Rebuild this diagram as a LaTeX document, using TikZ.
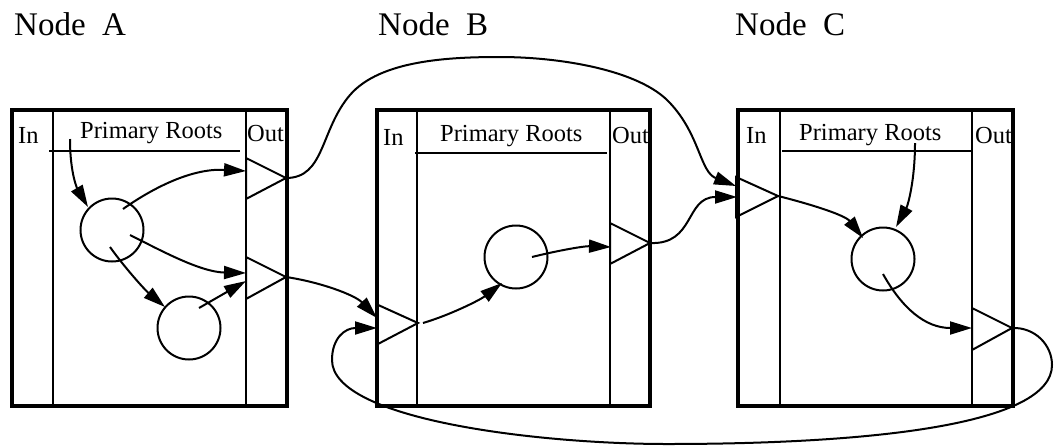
\documentclass[tikz,border=0pt]{standalone}
\usepackage{fontspec}
\setmainfont{Liberation Serif}
\usetikzlibrary{arrows.meta}
\begin{document}
\begin{tikzpicture}[x=1pt,y=-1pt,
  boxline/.style={line width=4pt},
  thinline/.style={line width=2pt},
  tri/.style={line width=2pt,line join=miter},
  conn/.style={line width=2pt,-{Triangle[length=22pt,width=13pt]}},
  lbl/.style={anchor=base west,inner sep=0pt,font=\fontsize{24.5}{28}\selectfont},
  ttl/.style={anchor=base west,inner sep=0pt,font=\fontsize{33}{38}\selectfont},
  ring/.style={circle,draw,line width=2pt,minimum size=63pt,inner sep=0pt}]
\useasboundingbox (0,0) rectangle (1054,445);

% titles
\node[ttl] (tA) at (14,35) {Node\ \ A};
\node[ttl] (tB) at (378,35) {Node\ \ B};
\node[ttl] (tC) at (735,35) {Node\ \ C};

% ---------- Node A ----------
\draw[boxline] (12,110) rectangle (286.5,406);
\draw[thinline] (53,110) -- (53,406);
\draw[thinline] (246,110) -- (246,406);
\draw[thinline] (49,151) -- (240,151);
\node[lbl] (inA) at (18,143) {In};
\node[lbl] (prA) at (80,138) {Primary Roots};
\node[lbl] (outA) at (247,141) {Out};
\coordinate (Aup1) at (246,158); \coordinate (Aupx) at (286,178); \coordinate (Aup2) at (246,199);
\coordinate (Alo1) at (246,257); \coordinate (Alox) at (286,277); \coordinate (Alo2) at (246,299);
\draw[tri] (Aup1) -- (Aupx) -- (Aup2) -- cycle;
\draw[tri] (Alo1) -- (Alox) -- (Alo2) -- cycle;
\node[ring] (cA1) at (112,230) {};
\node[ring] (cA2) at (189,328) {};

\coordinate (a1s) at (70,139);  \coordinate (a1e) at (88,207);
\coordinate (a2s) at (123,209); \coordinate (a2e) at (246,171);
\coordinate (a3s) at (130,235); \coordinate (a3e) at (246,273);
\coordinate (a4s) at (110,247); \coordinate (a4e) at (165,307);
\coordinate (a5s) at (199,308); \coordinate (a5e) at (246,281);
\draw[conn] (a1s) .. controls (70,175) and (78,190) .. (a1e);
\draw[conn] (a2s) .. controls (150,190) and (190,168) .. (a2e);
\draw[conn] (a3s) .. controls (160,250) and (200,272) .. (a3e);
\draw[conn] (a4s) .. controls (125,268) and (145,290) .. (a4e);
\draw[conn] (a5s) -- (a5e);

% ---------- Node B ----------
\draw[boxline] (377,110) rectangle (650,406);
\draw[thinline] (417,110) -- (417,406);
\draw[thinline] (610,110) -- (610,406);
\draw[thinline] (415,153) -- (607,153);
\node[lbl] (inB) at (383,145) {In};
\node[lbl] (prB) at (440,141) {Primary Roots};
\node[lbl] (outB) at (612,143) {Out};
\coordinate (Bin1) at (376,304); \coordinate (Binx) at (418,323); \coordinate (Bin2) at (376,345);
\coordinate (Bout1) at (610,223); \coordinate (Boutx) at (650,243); \coordinate (Bout2) at (610,264);
\draw[tri] (Bin1) -- (Binx) -- (Bin2) -- cycle;
\draw[tri] (Bout1) -- (Boutx) -- (Bout2) -- cycle;
\node[ring] (cB) at (516,257) {};

\coordinate (b1s) at (423,323); \coordinate (b1e) at (502,283);
\coordinate (b2s) at (532,257); \coordinate (b2e) at (611,247);
\draw[conn] (b1s) .. controls (450,315) and (480,300) .. (b1e);
\draw[conn] (b2s) .. controls (560,250) and (585,246) .. (b2e);

% ---------- Node C ----------
\draw[boxline] (738,110) rectangle (1013,406);
\draw[thinline] (780,110) -- (780,406);
\draw[thinline] (972,110) -- (972,406);
\draw[thinline] (782,151) -- (973,151);
\node[lbl] (inC) at (746,143) {In};
\node[lbl] (prC) at (799,140) {Primary Roots};
\node[lbl] (outC) at (975,143) {Out};
\coordinate (Cin1) at (736,177); \coordinate (Cinx) at (778,196); \coordinate (Cin2) at (736,217);
\coordinate (Cout1) at (972,308); \coordinate (Coutx) at (1012,328); \coordinate (Cout2) at (972,350);
\draw[tri] (Cin1) -- (Cinx) -- (Cin2) -- cycle;
\draw[tri] (Cout1) -- (Coutx) -- (Cout2) -- cycle;
\node[ring] (cC) at (883,259) {};

\coordinate (c1s) at (915,143); \coordinate (c1e) at (896,227);
\coordinate (c3s) at (883,274); \coordinate (c3e) at (972,328);
\coordinate (c2e) at (863,238);
\draw[conn] (c1s) .. controls (915,180) and (908,205) .. (c1e);
\draw[conn] (Cinx) .. controls (810,204) and (845,215) .. (c2e);
\draw[conn] (c3s) .. controls (902,308) and (925,328) .. (c3e);

% ---------- between nodes ----------
\coordinate (d1e) at (736,186);
\coordinate (d2e) at (737,197);
\coordinate (d3e) at (377,318);
\coordinate (d4e) at (377,328);
\draw[conn] (Aupx) .. controls (325,178) and (320,130) .. (350,95)
  .. controls (380,60) and (450,57) .. (500,57)
  .. controls (560,57) and (640,70) .. (670,103)
  .. controls (700,135) and (700,172) .. (d1e);
\draw[conn] (Boutx) .. controls (695,245) and (685,197) .. (d2e);
\draw[conn] (Alox) .. controls (320,282) and (355,295) .. (d3e);
\draw[conn] (Coutx) .. controls (1035,327) and (1052,345) .. (1052,365)
  .. controls (1052,425) and (870,444) .. (667,444)
  .. controls (540,444) and (332,420) .. (332,360)
  .. controls (332,338) and (345,328) .. (d4e);
\end{tikzpicture}
\end{document}
